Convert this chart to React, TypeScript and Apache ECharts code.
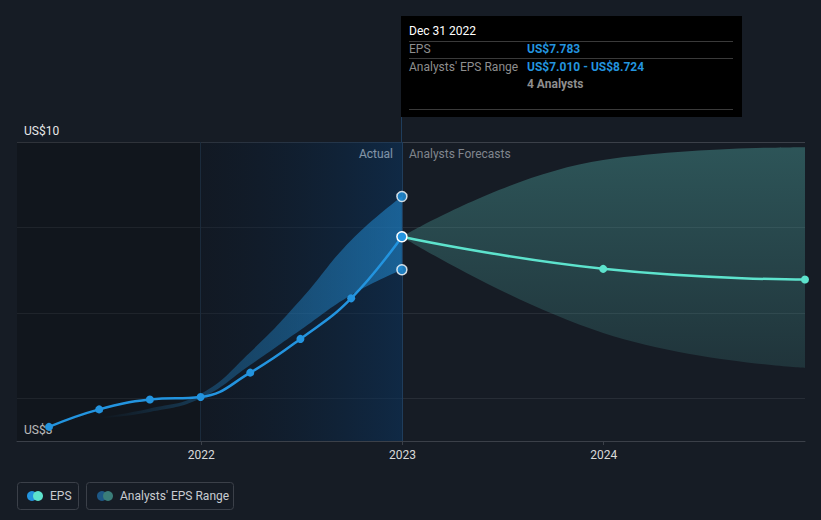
import React, { useEffect, useRef } from 'react';
import * as echarts from 'echarts';

const epsDates = ['2021-03-31', '2021-06-30', '2021-09-30', '2021-12-31', '2022-03-31', '2022-06-30', '2022-09-30', '2022-12-31'];
const epsValues = [3.33, 3.74, 3.97, 4.03, 4.6, 5.39, 6.34, 7.783];
const rangeDates = ['2021-06-30', '2021-09-30', '2021-12-31', '2022-03-31', '2022-06-30', '2022-09-30', '2022-12-31'];
const rangeLow = [3.53, 3.68, 4.0, 4.78, 5.6, 6.42, 7.01];
const rangeHigh = [3.55, 3.76, 4.1, 5.08, 6.3, 7.7, 8.724];
const forecastDates = ['2022-12-31', '2023-12-31', '2024-12-31'];
const forecastValues = [7.783, 7.03, 6.78];
const forecastLow = [7.783, 5.53, 4.71];
const forecastHigh = [7.783, 9.58, 9.88];
const yearTicks = ['2022-01-01', '2023-01-01', '2024-01-01'];
const axisMinDate = '2021-02-01';
const axisMaxDate = '2024-12-31';
const yMin = 3;
const yMax = 10;

const FONT = 'Roboto, "Noto Sans", sans-serif';

const ts = (d: string) => new Date(d + 'T00:00:00').getTime();

export default function App() {
  const ref = useRef<HTMLDivElement>(null);

  useEffect(() => {
    if (!ref.current) return;
    const chart = echarts.init(ref.current, undefined, { renderer: 'svg' });

    const histLow = rangeDates.map((d, i) => [ts(d), rangeLow[i]]);
    const histDiff = rangeDates.map((d, i) => [ts(d), +(rangeHigh[i] - rangeLow[i]).toFixed(3)]);
    const fcLow = forecastDates.map((d, i) => [ts(d), forecastLow[i]]);
    const fcDiff = forecastDates.map((d, i) => [ts(d), +(forecastHigh[i] - forecastLow[i]).toFixed(3)]);
    const epsData = epsDates.map((d, i) =>
      i === epsDates.length - 1
        ? { value: [ts(d), epsValues[i]], symbolSize: 10, itemStyle: { borderColor: '#ffffff', borderWidth: 1.5 } }
        : { value: [ts(d), epsValues[i]] }
    );
    const fcData = forecastDates.map((d, i) =>
      i === 0 ? { value: [ts(d), forecastValues[i]], symbol: 'none' } : { value: [ts(d), forecastValues[i]] }
    );
    const lastRange = rangeDates.length - 1;
    const rangeEnds = [
      [ts(rangeDates[lastRange]), rangeLow[lastRange]],
      [ts(rangeDates[lastRange]), rangeHigh[lastRange]],
    ];

    const tipText = (x: number, y: number, text: string, fill: string, bold = false) => ({
      type: 'text',
      x,
      y,
      style: { text, fill, font: `${bold ? 'bold ' : ''}12px ${FONT}`, verticalAlign: 'middle' },
    });
    const tipLine = (y: number) => ({
      type: 'line',
      shape: { x1: 409, y1: y, x2: 733, y2: y },
      style: { stroke: '#3a3a3a', lineWidth: 1 },
    });

    const bandLine = {
      type: 'line',
      xAxisIndex: 1,
      smooth: 0.45,
      symbol: 'none',
      silent: true,
      lineStyle: { width: 0, opacity: 0 },
    };

    chart.setOption({
      animation: false,
      backgroundColor: '#161c25',
      grid: { left: 17, right: 16, top: 142, bottom: 79 },
      xAxis: [
        {
          type: 'value',
          min: ts(axisMinDate),
          max: ts(axisMaxDate),
          axisLine: { show: true, lineStyle: { color: '#3b4049', width: 1 } },
          axisTick: {
            show: true,
            length: 4,
            lineStyle: { color: '#3b4049' },
            customValues: yearTicks.map(ts),
          },
          axisLabel: {
            color: '#d9d9d9',
            fontSize: 12,
            fontFamily: FONT,
            margin: 8,
            customValues: yearTicks.map(ts),
            formatter: (v: number) => String(new Date(v).getFullYear()),
          },
          splitLine: { show: false },
        },
        {
          type: 'time',
          show: false,
          position: 'bottom',
          min: ts(axisMinDate),
          max: ts(axisMaxDate),
          splitLine: { show: false },
        },
      ],
      yAxis: {
        type: 'value',
        min: yMin,
        max: yMax,
        splitNumber: 4,
        axisLine: { show: false },
        axisTick: { show: false },
        axisLabel: {
          inside: true,
          showMinLabel: true,
          showMaxLabel: true,
          color: '#e8e8e8',
          fontSize: 12,
          fontFamily: FONT,
          margin: 7,
          verticalAlign: 'bottom',
          padding: [0, 0, 5, 0],
          formatter: (v: number) => (v === yMax ? 'US$10' : v === yMin ? 'US$3' : ''),
        },
        splitLine: {
          show: true,
          lineStyle: { color: ['#3b4049', '#272d36', '#272d36', '#272d36', '#3b4049'], width: 1 },
        },
      },
      series: [
        {
          type: 'line',
          name: 'bg',
          xAxisIndex: 0,
          data: [],
          silent: true,
          z: 1,
          markArea: {
            silent: true,
            data: [
              [
                { xAxis: ts(axisMinDate), itemStyle: { color: 'rgba(0,0,0,0.2)' } },
                { xAxis: ts('2021-12-31') },
              ],
              [
                {
                  xAxis: ts('2021-12-31'),
                  itemStyle: {
                    color: new echarts.graphic.LinearGradient(0, 0, 1, 0, [
                      { offset: 0, color: 'rgba(8,18,32,0.3)' },
                      { offset: 1, color: 'rgba(10,52,95,0.55)' },
                    ]),
                  },
                },
                { xAxis: ts('2022-12-31') },
              ],
            ],
          },
          markLine: {
            silent: true,
            symbol: 'none',
            label: { show: false },
            data: [
              { xAxis: ts('2021-12-31'), lineStyle: { color: '#1b2b3c', type: 'solid', width: 1 } },
              { xAxis: ts('2022-12-31'), lineStyle: { color: '#1f3d5c', type: 'solid', width: 1 } },
            ],
          },
        },
        { ...bandLine, name: 'histLow', data: histLow, stack: 'hist' },
        {
          ...bandLine,
          name: "Analysts' EPS Range",
          data: histDiff,
          stack: 'hist',
          areaStyle: {
            opacity: 1,
            color: new echarts.graphic.LinearGradient(0, 0, 1, 0, [
              { offset: 0, color: 'rgba(35,148,223,0)' },
              { offset: 0.35, color: 'rgba(35,148,223,0.3)' },
              { offset: 1, color: 'rgba(35,148,223,0.52)' },
            ]),
          },
        },
        { ...bandLine, name: 'fcLow', data: fcLow, stack: 'fc' },
        {
          ...bandLine,
          name: 'fcRange',
          data: fcDiff,
          stack: 'fc',
          areaStyle: {
            opacity: 1,
            color: new echarts.graphic.LinearGradient(0, 0, 0, 1, [
              { offset: 0, color: 'rgba(80,170,165,0.4)' },
              { offset: 1, color: 'rgba(80,170,165,0.17)' },
            ]),
          },
        },
        {
          type: 'line',
          name: 'Forecast',
          xAxisIndex: 1,
          data: fcData,
          smooth: 0.5,
          symbol: 'circle',
          symbolSize: 8,
          itemStyle: { color: '#5de3cd' },
          lineStyle: { color: '#5de3cd', width: 2.5 },
          z: 4,
        },
        {
          type: 'line',
          name: 'EPS',
          xAxisIndex: 1,
          data: epsData,
          smooth: 0.45,
          symbol: 'circle',
          symbolSize: 8,
          itemStyle: { color: '#2394df' },
          lineStyle: { color: '#2394df', width: 2.5 },
          z: 5,
        },
        {
          type: 'scatter',
          name: 'rangeEnds',
          xAxisIndex: 1,
          data: rangeEnds,
          symbolSize: 10,
          itemStyle: { color: '#2394df', borderColor: '#ffffff', borderWidth: 1.5 },
          z: 5,
        },
      ],
      graphic: [
        {
          type: 'line',
          shape: { x1: 401.5, y1: 117, x2: 401.5, y2: 142 },
          style: { stroke: '#1f3d5c', lineWidth: 1 },
        },
        {
          type: 'rect',
          shape: { x: 401, y: 16, width: 341, height: 101 },
          style: { fill: '#000000' },
        },
        tipText(409, 31, 'Dec 31 2022', '#ffffff'),
        tipLine(41.5),
        tipText(409, 48.5, 'EPS', '#8e8e8e'),
        tipText(527, 48.5, 'US$7.783', '#2394df', true),
        tipLine(58.5),
        tipText(409, 66.5, "Analysts' EPS Range", '#8e8e8e'),
        tipText(527, 66.5, 'US$7.010 - US$8.724', '#2394df', true),
        tipText(527, 83.5, '4 Analysts', '#8e8e8e', true),
        tipLine(109.5),
        {
          type: 'text',
          x: 393,
          y: 154,
          style: { text: 'Actual', fill: '#ffffff', font: `12px ${FONT}`, align: 'right', verticalAlign: 'middle' },
        },
        {
          type: 'text',
          x: 409,
          y: 154,
          style: { text: 'Analysts Forecasts', fill: '#80858d', font: `12px ${FONT}`, verticalAlign: 'middle' },
        },
        {
          type: 'rect',
          shape: { x: 17.5, y: 482.5, width: 61, height: 27, r: 3 },
          style: { fill: 'none', stroke: '#3b4049', lineWidth: 1 },
        },
        { type: 'circle', shape: { cx: 32, cy: 496, r: 5 }, style: { fill: '#2394df' } },
        { type: 'circle', shape: { cx: 38, cy: 496, r: 5 }, style: { fill: '#5de3cd' } },
        {
          type: 'text',
          x: 50,
          y: 496,
          style: { text: 'EPS', fill: '#c9ccd1', font: `12px ${FONT}`, verticalAlign: 'middle' },
        },
        {
          type: 'rect',
          shape: { x: 86.5, y: 482.5, width: 147, height: 27, r: 3 },
          style: { fill: 'none', stroke: '#3b4049', lineWidth: 1 },
        },
        { type: 'circle', shape: { cx: 102, cy: 496, r: 5 }, style: { fill: '#1d5886' } },
        { type: 'circle', shape: { cx: 108, cy: 496, r: 5 }, style: { fill: '#3a7d79' } },
        {
          type: 'text',
          x: 120,
          y: 496,
          style: { text: "Analysts' EPS Range", fill: '#c9ccd1', font: `12px ${FONT}`, verticalAlign: 'middle' },
        },
      ],
    });

    return () => chart.dispose();
  }, []);

  return <div ref={ref} style={{ position: 'fixed', left: 0, top: 0, width: 821, height: 520 }} />;
}
